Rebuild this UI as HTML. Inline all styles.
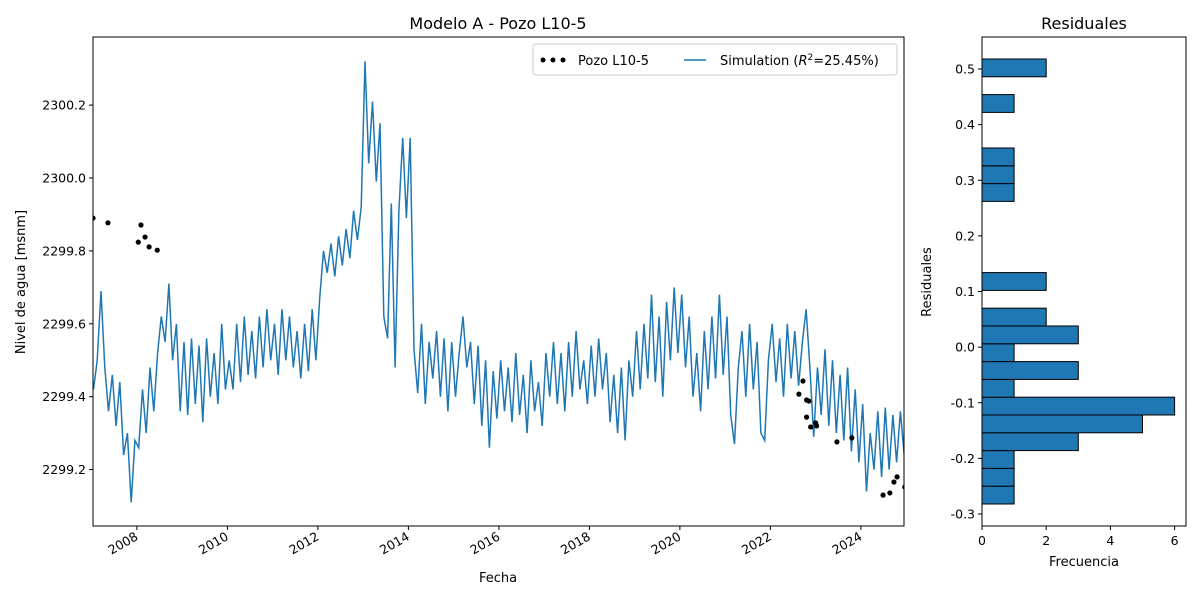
<!DOCTYPE html>
<html><head><meta charset="utf-8"><style>
body{margin:0;background:#fff}
svg{font-family:"DejaVu Sans","Liberation Sans",sans-serif}
</style></head><body>
<svg id="c" width="1200" height="600" viewBox="0 0 1200 600" xmlns="http://www.w3.org/2000/svg">
<rect width="1200" height="600" fill="#fff"/>
<text x="498" y="29" font-size="16" text-anchor="middle">Modelo A - Pozo L10-5</text>
<text x="1084" y="29" font-size="16" text-anchor="middle">Residuales</text>
<text x="498" y="582" font-size="13" text-anchor="middle">Fecha</text>
<text x="25" y="282" font-size="13" text-anchor="middle" transform="rotate(-90 25 282)">Nivel de agua [msnm]</text>
<text x="1084" y="566" font-size="13" text-anchor="middle">Frecuencia</text>
<text x="931" y="282" font-size="13" text-anchor="middle" transform="rotate(-90 931 282)">Residuales</text>
<g id="main"></g>
<g id="hist"></g>
<g>
<rect x="533" y="44" width="364" height="31" fill="#fff" stroke="#ccc" rx="3"/>
<circle cx="543" cy="60" r="2.5" fill="#000"/><circle cx="553" cy="60" r="2.5" fill="#000"/><circle cx="563" cy="60" r="2.5" fill="#000"/>
<text x="578" y="65" font-size="13">Pozo L10-5</text>
<line x1="684" y1="60" x2="706" y2="60" stroke="#1f77b4" stroke-width="1.5"/>
<text x="720" y="65" font-size="13">Simulation (<tspan font-style="italic">R</tspan><tspan dy="-5" font-size="9">2</tspan><tspan dy="5">=25.45%)</tspan></text>
</g>
</svg>
<script>
const simStart = 2007.04;
const simValues = [
2299.42,2299.50,2299.69,2299.48,2299.36,2299.46,2299.32,2299.44,2299.24,2299.30,2299.11,2299.28,
2299.26,2299.42,2299.30,2299.48,2299.36,2299.52,2299.62,2299.55,2299.71,2299.50,2299.60,2299.36,
2299.55,2299.35,2299.56,2299.38,2299.54,2299.33,2299.56,2299.40,2299.52,2299.38,2299.60,2299.42,
2299.50,2299.42,2299.60,2299.44,2299.62,2299.46,2299.58,2299.45,2299.62,2299.48,2299.64,2299.50,
2299.60,2299.46,2299.64,2299.50,2299.62,2299.48,2299.58,2299.45,2299.60,2299.47,2299.64,2299.50,
2299.67,2299.80,2299.74,2299.82,2299.73,2299.84,2299.76,2299.86,2299.78,2299.91,2299.83,2299.92,
2300.32,2300.04,2300.21,2299.99,2300.15,2299.62,2299.56,2299.93,2299.48,2299.91,2300.11,2299.89,
2300.11,2299.53,2299.41,2299.60,2299.38,2299.55,2299.45,2299.58,2299.40,2299.56,2299.36,2299.55,
2299.40,2299.52,2299.62,2299.48,2299.55,2299.38,2299.54,2299.32,2299.50,2299.26,2299.47,2299.34,
2299.50,2299.36,2299.48,2299.33,2299.52,2299.35,2299.46,2299.30,2299.50,2299.36,2299.44,2299.32,
2299.52,2299.40,2299.55,2299.38,2299.52,2299.36,2299.55,2299.40,2299.58,2299.42,2299.50,2299.38,
2299.54,2299.40,2299.56,2299.42,2299.52,2299.33,2299.46,2299.30,2299.48,2299.28,2299.50,2299.40,
2299.58,2299.42,2299.60,2299.45,2299.68,2299.44,2299.62,2299.40,2299.66,2299.50,2299.70,2299.52,
2299.68,2299.48,2299.62,2299.40,2299.52,2299.36,2299.58,2299.42,2299.62,2299.45,2299.68,2299.46,
2299.62,2299.35,2299.27,2299.48,2299.58,2299.40,2299.60,2299.42,2299.55,2299.30,2299.28,2299.50,
2299.60,2299.44,2299.56,2299.40,2299.60,2299.45,2299.58,2299.43,2299.55,2299.64,2299.48,2299.29,
2299.48,2299.35,2299.53,2299.32,2299.50,2299.30,2299.46,2299.28,2299.48,2299.25,2299.42,2299.22,
2299.38,2299.14,2299.30,2299.20,2299.36,2299.18,2299.37,2299.20,2299.35,2299.22,2299.36,2299.24
];
const obsDates = [2007.03,2007.36,2008.09,2008.03,2008.18,2008.27,2008.45,2022.72,2022.63,2022.80,2022.85,2022.80,2022.89,2023.00,2023.02,2023.47,2023.80,2024.49,2024.64,2024.73,2024.80,2024.97];
const obsValues = [2299.890,2299.877,2299.871,2299.824,2299.838,2299.811,2299.802,2299.443,2299.407,2299.391,2299.388,2299.344,2299.317,2299.328,2299.320,2299.276,2299.287,2299.130,2299.136,2299.166,2299.180,2299.152];
const xTicks = [2008,2010,2012,2014,2016,2018,2020,2022,2024];
const yTicks = [2299.2,2299.4,2299.6,2299.8,2300.0,2300.2];
const histCounts = [1,1,1,3,5,6,1,3,1,3,2,0,2,0,0,0,0,1,1,1,0,0,1,0,2];
const histStart = -0.282, histWidth = 0.032;
const histXTicks = [0,2,4,6];
const histYTicks = [-0.3,-0.2,-0.1,0.0,0.1,0.2,0.3,0.4,0.5];

const NS='http://www.w3.org/2000/svg';
function mk(p,tag,a){const e=document.createElementNS(NS,tag);for(const k in a)e.setAttribute(k,a[k]);p.appendChild(e);return e;}
const L=93,R=904,T=37,B=526;
const xs=t=>L+(t-2007.03)*45.25;
const ys=v=>178-(v-2300)*364.5;
const main=document.getElementById('main');
let d='';simValues.forEach((v,i)=>{d+=(i?'L':'M')+xs(simStart+i/12).toFixed(1)+' '+ys(v).toFixed(1);});
const cp=mk(main,'clipPath',{id:'cl'});mk(cp,'rect',{x:L,y:T,width:R-L,height:B-T});
const ln=mk(main,'path',{d:d,fill:'none',stroke:'#1f77b4','stroke-width':1.5,'clip-path':'url(#cl)'});


obsDates.forEach((t,i)=>{const c=mk(main,'circle',{cx:xs(t),cy:ys(obsValues[i]),r:2.6,fill:'#000','clip-path':'url(#cl)'});

});
const fr=mk(main,'rect',{x:L,y:T,width:R-L,height:B-T,fill:'none',stroke:'#000','stroke-width':1});


xTicks.forEach(t=>{const x=xs(t);mk(main,'line',{x1:x,x2:x,y1:B,y2:B+4,stroke:'#000'});
const tx=mk(main,'text',{x:x+2,y:B+13,'font-size':12.5,'text-anchor':'end',transform:`rotate(-30 ${x+2} ${B+13})`});tx.textContent=t;

});
yTicks.forEach(v=>{const y=ys(v);mk(main,'line',{x1:L-4,x2:L,y1:y,y2:y,stroke:'#000'});
const tx=mk(main,'text',{x:L-7,y:y+4.5,'font-size':12.5,'text-anchor':'end'});tx.textContent=v.toFixed(1);

});
const hist=document.getElementById('hist');
const HL=982,HR=1186;
const hx=c=>HL+c*32.1;
const hy=v=>69+(0.5-v)*556.25;
histCounts.forEach((c,i)=>{if(!c)return;const y1=hy(histStart+(i+1)*histWidth),y2=hy(histStart+i*histWidth);
const b=mk(hist,'rect',{x:HL,y:y1,width:hx(c)-HL,height:y2-y1,fill:'#1f77b4',stroke:'#000','stroke-width':1});

});
const hf=mk(hist,'rect',{x:HL,y:T,width:HR-HL,height:B-T,fill:'none',stroke:'#000'});


histXTicks.forEach(c=>{const x=hx(c);mk(hist,'line',{x1:x,x2:x,y1:B,y2:B+4,stroke:'#000'});
const tx=mk(hist,'text',{x:x,y:B+19,'font-size':12.5,'text-anchor':'middle'});tx.textContent=c;

});
histYTicks.forEach(v=>{const y=hy(v);mk(hist,'line',{x1:HL-4,x2:HL,y1:y,y2:y,stroke:'#000'});
const tx=mk(hist,'text',{x:HL-7,y:y+4.5,'font-size':12.5,'text-anchor':'end'});tx.textContent=v.toFixed(1);

});
</script>
</body></html>
